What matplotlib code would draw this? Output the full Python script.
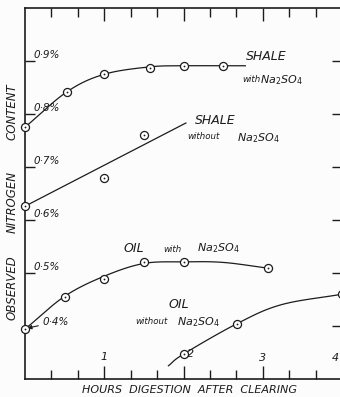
import numpy as np
import matplotlib
matplotlib.use("Agg")
import matplotlib.pyplot as plt

plt.rcParams["mathtext.fontset"] = "dejavusans"
plt.rcParams["mathtext.default"] = "it"

# ---- data (hours of digestion after clearing, observed nitrogen content) ----
hour_ticks = [1, 2, 3, 4]
pct_ticks = [0.4, 0.5, 0.6, 0.7, 0.8, 0.9]
pct_labels = ["0·4%", "0·5%", "0·6%", "0·7%", "0·8%", "0·9%"]

shale_with_t = [0.0, 0.53, 1.0, 1.58, 2.0, 2.5]
shale_with_v = [0.775, 0.842, 0.875, 0.887, 0.891, 0.891]
shale_with_curve_t = [0.0, 0.53, 1.0, 1.58, 2.0, 2.5, 2.78]
shale_with_curve_v = [0.775, 0.842, 0.875, 0.889, 0.891, 0.891, 0.891]

shale_without_t = [0.0, 1.0, 1.5]
shale_without_v = [0.626, 0.679, 0.760]
shale_without_line_t = [0.0, 2.03]
shale_without_line_v = [0.626, 0.783]

oil_with_t = [0.0, 0.5, 1.0, 1.5, 2.0, 3.07]
oil_with_v = [0.394, 0.455, 0.489, 0.521, 0.521, 0.509]
oil_with_curve_t = [0.0, 0.5, 1.0, 1.5, 2.0, 2.5, 3.07]
oil_with_curve_v = [0.394, 0.456, 0.494, 0.518, 0.521, 0.520, 0.509]

oil_without_t = [2.0, 2.67, 4.0]
oil_without_v = [0.347, 0.404, 0.460]
oil_without_curve_t = [1.81, 2.0, 2.67, 3.23, 4.0]
oil_without_curve_v = [0.325, 0.347, 0.404, 0.440, 0.460]

SALT = r"Na$_2$SO$_4$"
INK = "#1c1c1c"
W, H = 340, 397


def catmull_rom(xs, ys, n=24):
    """Smooth curve through the given vertices (uniform Catmull-Rom)."""
    p = np.column_stack([xs, ys]).astype(float)
    p = np.vstack([2 * p[0] - p[1], p, 2 * p[-1] - p[-2]])
    out = []
    for i in range(1, len(p) - 2):
        p0, p1, p2, p3 = p[i - 1], p[i], p[i + 1], p[i + 2]
        s = np.linspace(0, 1, n, endpoint=False)[:, None]
        seg = 0.5 * ((2 * p1) + (-p0 + p2) * s
                     + (2 * p0 - 5 * p1 + 4 * p2 - p3) * s ** 2
                     + (-p0 + 3 * p1 - 3 * p2 + p3) * s ** 3)
        out.append(seg)
    out.append(p[-2][None, :])
    out = np.vstack(out)
    return out[:, 0], out[:, 1]


def fx(px):
    return px / W


def fy(py):
    return 1 - py / H


fig = plt.figure(figsize=(W / 100, H / 100), dpi=100, facecolor="#fcfcfc")
ax = fig.add_axes([fx(25), fy(379), 317 / W, 371 / H])
ax.set_facecolor("none")
ax.set_xlim(0, 4)
ax.set_ylim(0.3, 1.0)

for side in ("left", "bottom", "top"):
    ax.spines[side].set_linewidth(1.2)
    ax.spines[side].set_color(INK)
ax.spines["right"].set_visible(False)

# ticks
ax.set_xticks(hour_ticks)
ax.set_xticks(np.arange(1, 12) / 3, minor=True)
ax.set_yticks(pct_ticks)
ax.tick_params(axis="x", which="major", direction="in", top=True, bottom=True,
               length=9.5, width=1.0, color=INK, labelbottom=False)
ax.tick_params(axis="x", which="minor", direction="in", top=True, bottom=True,
               length=6.8, width=1.0, color=INK)
ax.tick_params(axis="y", which="major", direction="in", left=True, right=True,
               length=7.2, width=1.0, color=INK, labelleft=False)
ax.yaxis.get_major_ticks()[0].tick1line.set_visible(False)

txt = dict(color=INK, style="italic", family="DejaVu Sans")

# y tick labels drawn inside the frame
for v, lab in zip(pct_ticks[1:], pct_labels[1:]):
    ax.text(0.105, v + 0.002, lab, fontsize=7.5, ha="left", va="bottom", **txt)
ax.annotate(pct_labels[0], xy=(0.03, 0.396), xytext=(0.22, 0.4075),
            fontsize=7.5, ha="left", va="center", **txt,
            arrowprops=dict(arrowstyle="-|>", color=INK, lw=0.8,
                            mutation_scale=6, shrinkA=1, shrinkB=0))

# x tick labels drawn inside the frame
ax.text(1.0, 0.3415, "1", fontsize=8, ha="center", va="center", **txt)
ax.text(2.04, 0.347, "2", fontsize=8, ha="left", va="center", **txt)
ax.text(3.0, 0.34, "3", fontsize=8, ha="center", va="center", **txt)
ax.text(3.91, 0.34, "4", fontsize=8, ha="center", va="center", **txt)

# curves
lw = 0.9
x, y = catmull_rom(shale_with_curve_t, shale_with_curve_v)
ax.plot(x, y, color=INK, lw=lw)
ax.plot(shale_without_line_t, shale_without_line_v, color=INK, lw=lw)
x, y = catmull_rom(oil_with_curve_t, oil_with_curve_v)
ax.plot(x, y, color=INK, lw=lw)
x, y = catmull_rom(oil_without_curve_t, oil_without_curve_v)
ax.plot(x, y, color=INK, lw=lw)

# observation points: open circles with a centre dot
for t, v in [(shale_with_t, shale_with_v), (shale_without_t, shale_without_v),
             (oil_with_t, oil_with_v), (oil_without_t, oil_without_v)]:
    ax.plot(t, v, "o", ms=5.8, mfc="white", mec=INK, mew=0.9, clip_on=False,
            zorder=5)
    ax.plot(t, v, "o", ms=1.3, mfc=INK, mec=INK, mew=0, clip_on=False,
            zorder=6)


# curve labels
def label(px, py, s, size, ha="left"):
    fig.text(fx(px), fy(py), s, fontsize=size, ha=ha, va="center", **txt)


label(266, 57, "SHALE", 9, ha="center")
label(242, 79, "with", 6.2)
label(260, 80, SALT, 8)

label(215, 120, "SHALE", 9, ha="center")
label(187, 137, "without", 6.2)
label(237, 138, SALT, 8)

label(134, 248, "OIL", 9, ha="center")
label(163, 249, "with", 6.2)
label(197, 248, SALT, 8)

label(179, 305, "OIL", 9, ha="center")
label(135, 322, "without", 6.2)
label(177, 322, SALT, 8)

# axis titles
fig.text(fx(190), fy(390), "HOURS  DIGESTION  AFTER  CLEARING", fontsize=8,
         ha="center", va="center", **txt)
for word, cy in [("OBSERVED", 288), ("NITROGEN", 202), ("CONTENT", 112)]:
    fig.text(fx(12), fy(cy), word, fontsize=8.5, rotation=90,
             ha="center", va="center", **txt)

fig.savefig("out.png", dpi=100, facecolor=fig.get_facecolor())
